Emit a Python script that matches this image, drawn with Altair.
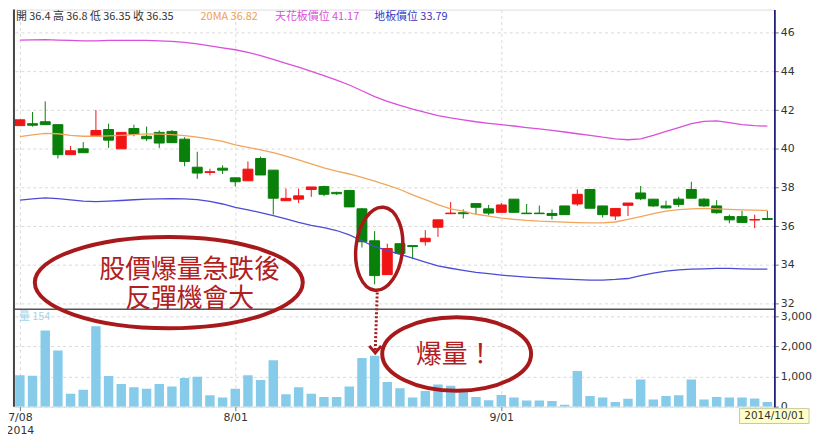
import altair as alt
import pandas as pd

# ---------------- data ----------------
idx = list(range(60))
open_ = [41.2, 41.3, 41.4, 41.25, 39.7, 40.0, 40.65, 41.0, 40.0, 41.05,
         40.65, 40.85, 40.9, 40.5, 39.05, 38.78, 39.0, 38.5, 38.35, 39.5,
         38.9, 37.32, 37.4, 37.9, 38.05, 37.75, 37.85, 36.9, 35.25, 33.5,
         35.1, 35.0, 35.2, 35.95, 36.65, 36.7, 37.17, 36.9, 36.72, 37.4,
         36.68, 36.68, 36.66, 37.05, 37.15, 37.9, 37.05, 36.53, 37.08, 37.72,
         37.4, 37.05, 37.4, 37.9, 37.4, 37.05, 36.5, 36.5, 36.32, 36.4]
high = [41.5, 41.9, 42.45, 41.25, 40.15, 40.35, 42.0, 41.3, 40.85, 41.25,
        41.15, 40.95, 40.97, 40.6, 39.85, 38.97, 39.15, 38.5, 39.35, 39.6,
        38.9, 37.95, 37.95, 38.03, 38.1, 37.78, 37.85, 36.95, 35.75, 35.1,
        35.1, 35.0, 35.8, 36.35, 37.25, 36.87, 37.17, 37.1, 37.2, 37.4,
        37.15, 37.07, 36.87, 37.05, 37.9, 37.9, 37.05, 36.92, 37.2, 38.08,
        37.4, 37.32, 37.52, 38.3, 37.45, 37.35, 36.6, 36.8, 36.6, 36.8]
low = [41.2, 41.15, 41.25, 39.5, 39.7, 39.8, 40.65, 40.05, 40.0, 40.65,
       40.4, 40.05, 40.3, 39.1, 38.45, 38.63, 38.7, 38.05, 38.35, 38.65,
       36.6, 37.32, 37.2, 37.52, 37.55, 37.62, 37.0, 34.9, 33.0, 33.5,
       34.6, 34.3, 35.0, 35.45, 36.65, 36.4, 36.6, 36.57, 36.72, 36.72,
       36.65, 36.65, 36.35, 36.6, 37.05, 36.93, 36.45, 36.32, 36.53, 37.35,
       37.0, 36.92, 37.0, 37.45, 37.0, 36.65, 36.15, 36.2, 35.9, 36.35]
close = [41.5, 41.22, 41.25, 39.7, 39.9, 39.8, 40.95, 40.45, 40.85, 40.75,
         40.52, 40.3, 40.32, 39.35, 38.75, 38.82, 38.9, 38.3, 38.95, 38.65,
         37.45, 37.44, 37.57, 38.03, 37.65, 37.68, 37.0, 35.2, 33.45, 34.85,
         34.6, 34.95, 35.38, 36.33, 36.68, 36.65, 36.98, 36.68, 37.1, 36.72,
         36.65, 36.65, 36.56, 36.6, 37.65, 36.93, 36.6, 36.92, 37.2, 37.42,
         37.05, 36.95, 37.13, 37.45, 37.05, 36.7, 36.33, 36.2, 36.35, 36.35]
volume = [1043, 1021, 2527, 1860, 430, 559, 2667, 1011, 753, 645,
          591, 753, 667, 946, 989, 376, 301, 591, 1043, 882,
          1538, 409, 645, 430, 323, 323, 667, 1613, 1688, 817,
          613, 301, 516, 731, 688, 516, 323, 215, 387, 301,
          204, 204, 183, 65, 1183, 355, 301, 150, 258, 903,
          237, 355, 376, 903, 237, 323, 301, 301, 269, 154]
ma20 = [40.63, 40.72, 40.8, 40.78, 40.7, 40.65, 40.65, 40.67, 40.7, 40.74,
        40.77, 40.76, 40.74, 40.68, 40.6, 40.5, 40.38, 40.2, 40.08, 39.95,
        39.8, 39.62, 39.43, 39.22, 39.02, 38.85, 38.7, 38.52, 38.33, 38.13,
        37.9, 37.62, 37.38, 37.12, 36.9, 36.78, 36.62, 36.52, 36.42, 36.36,
        36.3, 36.26, 36.24, 36.21, 36.19, 36.18, 36.17, 36.22, 36.35, 36.5,
        36.65, 36.78, 36.86, 36.9, 36.92, 36.9, 36.87, 36.85, 36.83, 36.82]
upper = [45.62, 45.63, 45.64, 45.62, 45.6, 45.58, 45.58, 45.6, 45.6, 45.6,
         45.6, 45.58, 45.55, 45.5, 45.42, 45.32, 45.22, 45.12, 44.98, 44.82,
         44.62, 44.42, 44.22, 44.0, 43.78, 43.55, 43.3, 43.0, 42.7, 42.45,
         42.25, 42.05, 41.88, 41.72, 41.6, 41.5, 41.4, 41.32, 41.25, 41.18,
         41.1, 41.03, 40.95, 40.87, 40.78, 40.7, 40.6, 40.52, 40.47, 40.52,
         40.7, 40.9, 41.1, 41.3, 41.42, 41.45, 41.35, 41.25, 41.2, 41.17]
lower = [37.35, 37.42, 37.47, 37.43, 37.36, 37.3, 37.27, 37.3, 37.33, 37.37,
         37.4, 37.42, 37.43, 37.42, 37.38, 37.28, 37.15, 36.98, 36.85, 36.7,
         36.55, 36.38, 36.2, 36.05, 35.93, 35.78, 35.55, 35.25, 34.95, 34.75,
         34.55, 34.35, 34.15, 33.95, 33.83, 33.72, 33.62, 33.55, 33.48, 33.42,
         33.37, 33.33, 33.3, 33.27, 33.24, 33.22, 33.22, 33.25, 33.3, 33.45,
         33.58, 33.68, 33.75, 33.78, 33.8, 33.82, 33.82, 33.8, 33.79, 33.79]
tick_idx = [0, 17, 38]
price_ticks = [32, 34, 36, 38, 40, 42, 44, 46]
vol_ticks = [0, 1000, 2000, 3000]

df = pd.DataFrame(dict(i=idx, o=open_, h=high, l=low, c=close, v=volume,
                       ma=ma20, up=upper, lo=lower))
df["dir"] = ["up" if c >= o else "down" for o, c in zip(open_, close)]
one = pd.DataFrame({"k": [0]})

# ---------------- layout ----------------
W, H = 766, 400
AX_FONT = "DejaVu Sans"
CJK = "Noto Sans CJK TC"
RED_NOTE = "#A8191B"

xenc = alt.X("i:Q",
             scale=alt.Scale(domain=[-0.077, 59.155], nice=False, zero=False),
             axis=alt.Axis(values=tick_idx, title=None, grid=True,
                           gridDash=[3, 3], gridColor="#d9d9d9",
                           domain=False, ticks=True, tickSize=4, tickColor="#777",
                           labelFont=AX_FONT, labelFontSize=11, labelColor="#333",
                           labelPadding=1, labelLineHeight=13,
                           labelFlush=5, labelFlushOffset=7,
                           labelExpr="datum.value == 0 ? ['7/08', '2014'] : (datum.value == 17 ? '8/01' : '9/01')"))

pscale = alt.Scale(domain=[26.68, 47.195], nice=False, zero=False)
paxis = alt.Axis(orient="right", values=price_ticks, title=None, grid=True,
                 gridDash=[3, 3], gridColor="#d9d9d9", domain=True,
                 domainColor="#1F1F78", domainWidth=1.5, tickSize=4,
                 tickColor="#777", labelFont=AX_FONT, labelFontSize=11,
                 labelColor="#333", labelPadding=2)


def py(field):
    return alt.Y(field, scale=pscale, axis=paxis)


cscale = alt.Scale(domain=["up", "down"], range=["#F01414", "#08800A"])

base = alt.Chart(df)
wick = base.mark_rule(strokeWidth=1, clip=True).encode(
    x=xenc, y=py("l:Q"), y2="h:Q",
    color=alt.Color("dir:N", scale=cscale, legend=None))
body = base.mark_bar(size=10, strokeWidth=1, clip=True).encode(
    x=xenc, y=py("o:Q"), y2="c:Q",
    color=alt.Color("dir:N", scale=cscale, legend=None),
    stroke=alt.Stroke("dir:N", scale=cscale, legend=None))
ma_line = base.mark_line(color="#F2A55A", strokeWidth=1.3).encode(x=xenc, y=py("ma:Q"))
up_line = base.mark_line(color="#DA4FDA", strokeWidth=1.3).encode(x=xenc, y=py("up:Q"))
lo_line = base.mark_line(color="#4B4BD6", strokeWidth=1.3).encode(x=xenc, y=py("lo:Q"))

price = alt.layer(wick, body, ma_line, up_line, lo_line)

vol = base.mark_bar(size=9.5, color="#86CBEA", clip=True).encode(
    x=xenc,
    y=alt.Y("v:Q", scale=alt.Scale(domain=[0, 13158], nice=False, zero=True),
            axis=alt.Axis(orient="right", values=vol_ticks, format=",.0f", title=None,
                          grid=True, gridDash=[3, 3], gridColor="#d9d9d9",
                          domain=True, domainColor="#1F1F78", domainWidth=1.5,
                          tickSize=4, tickColor="#777", labelFont=AX_FONT,
                          labelFontSize=11, labelColor="#333", labelPadding=2)))

ann = alt.Chart(one)

# frame pieces
sep = ann.mark_rule(color="#555", strokeWidth=1.5).encode(
    x=alt.value(0), x2=alt.value(W), y=alt.value(302))
left_border = ann.mark_rule(color="#444", strokeWidth=2).encode(
    x=alt.value(0), y=alt.value(0), y2=alt.value(H))

# header legend
def label(txt, x, y, color, size=11, font=CJK):
    return ann.mark_text(align="left", baseline="top", fontSize=size, font=font,
                         color=color).encode(x=alt.value(x), y=alt.value(y),
                                             text=alt.value(txt))

hdr1 = label("開 36.4  高 36.8  低 36.35  收 36.35", 2, 1, "#333")
hdr2 = label("20MA 36.82", 188, 1, "#F0A050")
hdr3 = label("天花板價位 41.17", 263, 1, "#D94FD9")
hdr4 = label("地板價位 33.79", 363, 1, "#3838C8")
vlab = label("量 154", 5, 304, "#A5D5EE")


def ellipse_shape(rx, ry):
    if rx >= ry:
        k = ry / rx
        return f"M -1 0 A 1 {k:.4f} 0 1 1 1 0 A 1 {k:.4f} 0 1 1 -1 0 Z", (2 * rx) ** 2
    k = rx / ry
    return f"M 0 -1 A {k:.4f} 1 0 1 1 0 1 A {k:.4f} 1 0 1 1 0 -1 Z", (2 * ry) ** 2


def ellipse(cx, cy, rx, ry, angle=0, sw=4):
    shp, sz = ellipse_shape(rx, ry)
    return ann.mark_point(shape=shp, size=sz, filled=False, stroke=RED_NOTE,
                          strokeWidth=sw, opacity=1, angle=angle).encode(
        x=alt.value(cx), y=alt.value(cy))


big_ell = ellipse(156, 275, 135, 46)
small_ell = ellipse(368, 241, 23.5, 42, angle=6, sw=3.5)
vol_ell = ellipse(446, 347, 75, 37)

arrow = ann.mark_rule(color=RED_NOTE, strokeWidth=3, strokeDash=[2, 2]).encode(
    x=alt.value(366), y=alt.value(285), x2=alt.value(364), y2=alt.value(343))
head = ann.mark_point(shape="M -1 -0.7 L 0 0.5 L 1 -0.7", size=144, filled=False,
                      stroke=RED_NOTE, strokeWidth=3, opacity=1).encode(
    x=alt.value(364), y=alt.value(343))

t12 = ann.mark_text(align="center", baseline="middle", fontSize=26, font=CJK,
                    color="#B0201F", lineHeight=30).encode(
    x=alt.value(177), y=alt.value(262),
    text=alt.value(["股價爆量急跌後", "反彈機會大"]))
t3 = ann.mark_text(align="center", baseline="middle", fontSize=26, font=CJK,
                   color="#B0201F").encode(
    x=alt.value(444), y=alt.value(348), text=alt.value("爆量！"))

tip_box = ann.mark_rect(fill="#FFFFCC", stroke="#C9C9A0", strokeWidth=1).encode(
    x=alt.value(731), x2=alt.value(801), y=alt.value(402), y2=alt.value(417))
tip_txt = ann.mark_text(align="center", baseline="middle", fontSize=10.5,
                        font=AX_FONT, color="#333").encode(
    x=alt.value(766), y=alt.value(409.5), text=alt.value("2014/10/01"))

chart = alt.layer(
    price, vol, sep, left_border, hdr1, hdr2, hdr3, hdr4, vlab,
    big_ell, small_ell, vol_ell, arrow, head, t12, t3, tip_box, tip_txt
).resolve_scale(y="independent").properties(
    width=W, height=H,
    autosize=alt.AutoSizeParams(type="none"),
    padding={"left": 6, "top": 0, "right": 38, "bottom": 30},
).configure_view(stroke="#777", strokeWidth=1).configure(background="white")

chart.save("out.html", embed_options={"renderer": "svg", "actions": False})
